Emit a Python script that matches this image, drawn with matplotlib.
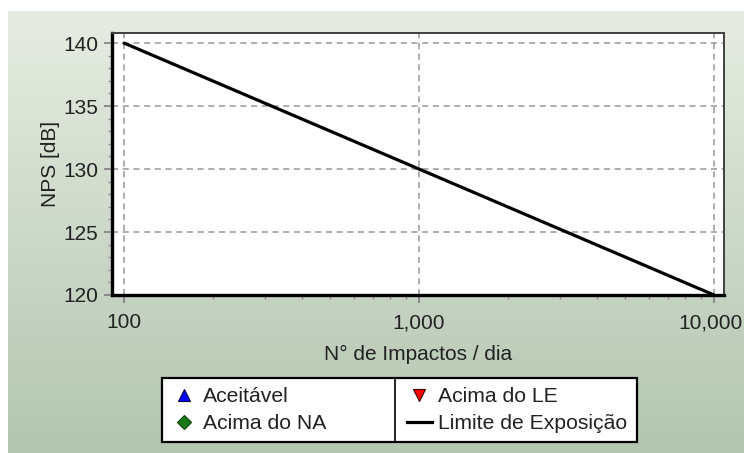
import numpy as np
import matplotlib.pyplot as plt
from matplotlib.lines import Line2D
from matplotlib.transforms import ScaledTranslation
from matplotlib.ticker import FixedLocator, MultipleLocator, FuncFormatter

plt.rcParams['font.family'] = ['Liberation Sans', 'DejaVu Sans']

# Data
impactos = [100, 1000, 10000]
limite_nps = [140, 130, 120]
x_ticks = [100, 1000, 10000]
y_ticks = [120, 125, 130, 135, 140]
series_names = ["Aceitável", "Acima do NA", "Acima do LE", "Limite de Exposição"]

W, H = 744, 453
fig = plt.figure(figsize=(W / 100, H / 100), dpi=100)
fig.patch.set_facecolor('white')

# Gradient background (white strip at top and left)
bg = fig.add_axes([8 / W, 0, 1 - 8 / W, (H - 11) / H], zorder=-10)
top = np.array([0.905, 0.927, 0.885])
bot = np.array([0.700, 0.775, 0.690])
t = np.linspace(0, 1, 256)[:, None]
grad = top * (1 - t) + bot * t
bg.imshow(grad[:, None, :].repeat(2, axis=1), aspect='auto', extent=[0, 1, 0, 1])
bg.set_axis_off()

ax = fig.add_axes([112 / W, (H - 295) / H, (724 - 112) / W, (295 - 33) / H])
ax.set_facecolor('white')

ax.plot(impactos, limite_nps, color='black', lw=2.3, solid_capstyle='round', zorder=3)

ax.set_xscale('log')
ax.set_xlim(91.0, 10810)
ax.set_ylim(120, 140.8)
ax.xaxis.set_major_locator(FixedLocator(x_ticks))
ax.xaxis.set_major_formatter(FuncFormatter(lambda v, p: f"{v:,.0f}"))
ax.yaxis.set_major_locator(FixedLocator(y_ticks))
ax.yaxis.set_minor_locator(MultipleLocator(1))

ax.grid(True, which='major', color='#999999', ls=(0, (4, 3)), lw=1.1)
ax.tick_params(axis='both', which='major', length=6, width=1.2, color='#808080',
               labelsize=15, labelcolor='#222222', pad=4)
ax.tick_params(axis='both', which='minor', length=3, width=1.0, color='#909090')
ax.tick_params(axis='x', which='major', pad=7)

for side in ['top', 'right']:
    ax.spines[side].set_color('#404040')
    ax.spines[side].set_linewidth(1.4)
ax.spines['left'].set_color('black')
ax.spines['left'].set_linewidth(2.4)
ax.spines['bottom'].set_color('black')
ax.spines['bottom'].set_linewidth(2.4)

ax.set_xlabel("N° de Impactos / dia", fontsize=15, color='#222222', labelpad=9)
ax.set_ylabel("NPS [dB]", fontsize=15, color='#222222', labelpad=2)

# Legend entries (the classification series have no points in this chart)
handles = [
    Line2D([], [], ls='none', marker='^', ms=9, mfc='#0000ff', mec='#000040', mew=0.8),
    Line2D([], [], ls='none', marker='D', ms=7, mfc='#1a7a1a', mec='#0a400a', mew=0.8),
    Line2D([], [], ls='none', marker='v', ms=9, mfc='#ff0000', mec='#400000', mew=0.8),
    Line2D([], [], color='black', lw=2.3),
]
leg = fig.legend(handles, series_names, ncol=2, loc='upper left',
                 bbox_to_anchor=(162 / W, 1 - 378 / H), fontsize=15.2,
                 frameon=True, fancybox=False, edgecolor='black', facecolor='white',
                 framealpha=1, borderpad=0.45, labelspacing=0.35, handlelength=1.2,
                 handletextpad=0.3, columnspacing=3.8, borderaxespad=0,
                 labelcolor='#222222')
leg.get_frame().set_linewidth(1.6)

fig.canvas.draw()

# keep the last x tick label inside the picture
last = ax.get_xticklabels()[-1]
last.set_transform(last.get_transform() + ScaledTranslation(-4 / 100, 0, fig.dpi_scale_trans))

# divider between the legend columns
bb = leg.get_window_extent()
fig.add_artist(Line2D([395 / W, 395 / W], [bb.y0 / H, bb.y1 / H],
                      transform=fig.transFigure, color='black', lw=1.2, zorder=10))

fig.savefig('out.png', dpi=100)
